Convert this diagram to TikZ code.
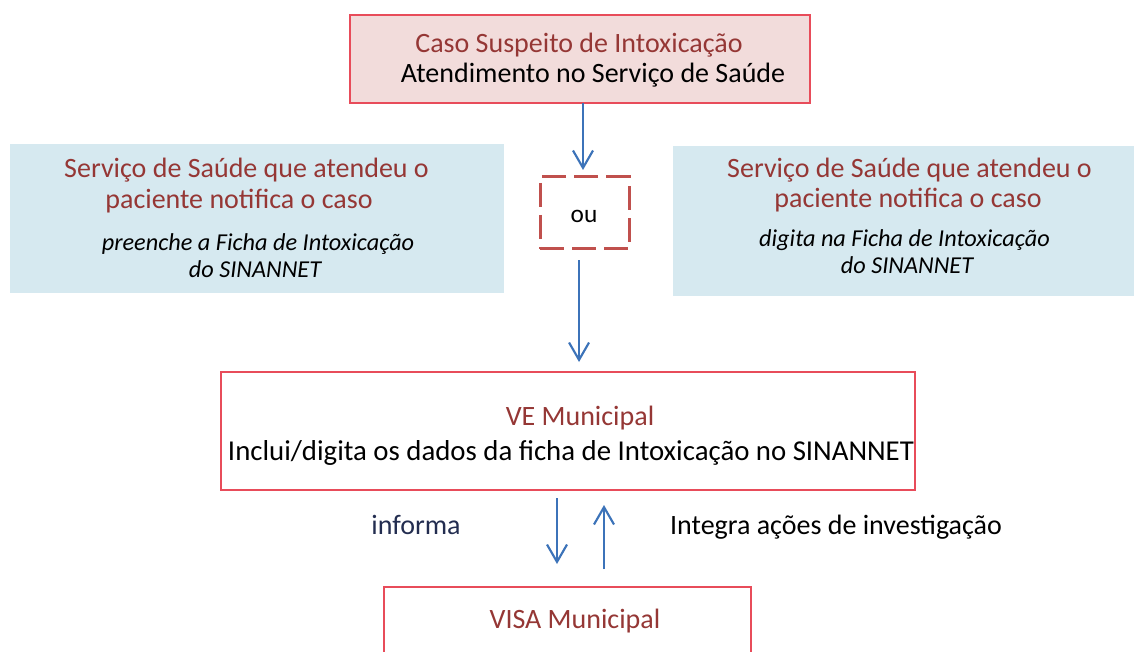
\documentclass[tikz,border=0pt]{standalone}
\usepackage{fontspec}
\setmainfont{Carlito}
\usetikzlibrary{arrows.meta}
\definecolor{dred}{RGB}{149,55,53}
\definecolor{boxred}{RGB}{232,76,90}
\definecolor{pinkfill}{RGB}{242,220,219}
\definecolor{bluefill}{RGB}{214,233,240}
\definecolor{arrblue}{RGB}{60,115,185}
\definecolor{dashred}{RGB}{192,80,77}
\definecolor{navy}{RGB}{35,45,80}
\begin{document}
\begin{tikzpicture}[x=0.75pt,y=-0.75pt,
  box/.style={draw=boxred,line width=1.1pt,inner sep=0pt,outer sep=0pt,fill=white},
  pinkbox/.style={box,fill=pinkfill},
  bluebox/.style={fill=bluefill,inner sep=0pt,outer sep=0pt},
  dashbox/.style={draw=dashred,line width=2.25pt,dash pattern=on 18pt off 6pt,inner sep=0pt,outer sep=0pt},
  arr/.style={draw=arrblue,line width=1.6pt,-{Straight Barb[length=13pt,width=15pt,line width=1.6pt]}},
  txt/.style={anchor=base,inner sep=0pt,font=\fontsize{21}{24}\selectfont},
  tred/.style={txt,text=dred},
  tblack/.style={txt,text=black},
  tital/.style={anchor=base,inner sep=0pt,font=\fontsize{18.2}{21}\selectfont\itshape},
]
\fill[white] (0,0) rectangle (1134,652);
\useasboundingbox (0,0) rectangle (1134,652);

% boxes
\node[pinkbox, minimum width=345pt, minimum height=66pt] (top) at (580,59) {};
\node[bluebox, minimum width=370.5pt, minimum height=111.75pt] (left) at (257,218.5) {};
\node[bluebox, minimum width=345.75pt, minimum height=112.5pt] (right) at (903.5,221) {};
\node[dashbox, minimum width=66.75pt, minimum height=54pt] (ou) at (584.5,213) {};
\node[box, minimum width=520.5pt, minimum height=88.5pt] (ve) at (568,431) {};
\node[box, minimum width=275.25pt, minimum height=99.75pt] (visa) at (567.5,653.5) {};

% texts
\node[tred] (t1) at (579,53) {Caso Suspeito de Intoxicação};
\node[tblack] (t2) at (593,83) {Atendimento no Serviço de Saúde};

\node[tred] (l1) at (246.5,178) {Serviço de Saúde que atendeu o};
\node[tred] (l2) at (239,209) {paciente notifica o caso};
\node[tital] (l3) at (258,250.5) {preenche a Ficha de Intoxicação};
\node[tital] (l4) at (255,277) {do SINANNET};

\node[tred] (r1) at (909.5,178) {Serviço de Saúde que atendeu o};
\node[tred] (r2) at (908,208) {paciente notifica o caso};
\node[tital] (r3) at (904.5,247) {digita na Ficha de Intoxicação};
\node[tital] (r4) at (907,273) {do SINANNET};

\node[anchor=base,inner sep=0pt,font=\fontsize{19}{22}\selectfont] (out) at (584,223) {ou};

\node[tred] (v1) at (580,425) {VE Municipal};
\node[tblack,font=\fontsize{21.6}{24}\selectfont] (v2) at (571,460) {Inclui/digita os dados da ficha de Intoxicação no SINANNET};

\node[tred] (s1) at (575,628) {VISA Municipal};

\node[txt,text=navy] (inf) at (416,534) {informa};
\node[tblack] (integ) at (836,534) {Integra ações de investigação};

% arrows
\draw[arr, shorten >=5.25pt] ([xshift=2.25pt]top.south) -- ([xshift=2.25pt]top.south |- ou.north);
\draw[arr, shorten <=8.25pt, shorten >=7.5pt] ([xshift=-4.1pt]ou.south) -- ([xshift=-4.1pt]ou.south |- ve.north);
\draw[arr, shorten <=6pt, shorten >=17.25pt] ([xshift=-8.25pt]ve.south) -- ([xshift=-8.25pt]ve.south |- visa.north);
\draw[arr, shorten <=13.5pt, shorten >=11.25pt] ([xshift=27pt]ve.south |- visa.north) -- ([xshift=27pt]ve.south);
\end{tikzpicture}
\end{document}
